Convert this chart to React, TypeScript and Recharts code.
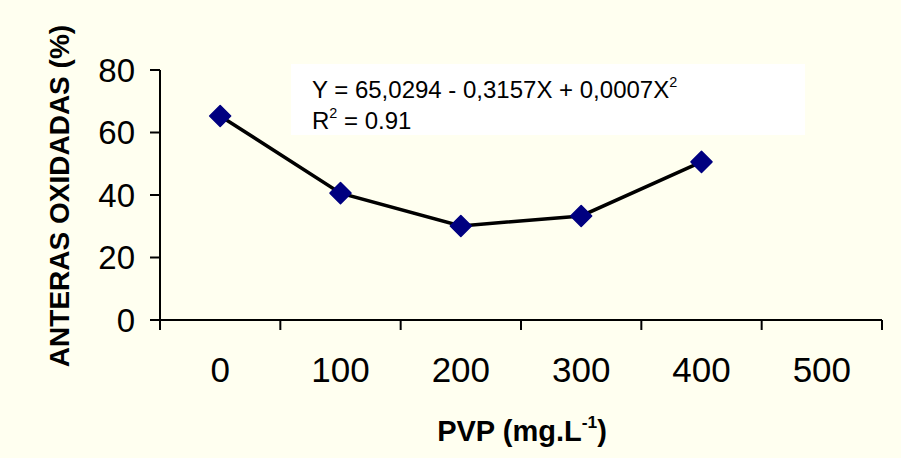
import { Line, LineChart, XAxis, YAxis } from "recharts";

// PVP dose (mg/L) vs. oxidised anthers (%)
const doses = [0, 100, 200, 300, 400];
const oxidised = [65.3, 40.6, 30.1, 33.3, 50.6];
const xTicks = [0, 100, 200, 300, 400, 500];
const yTicks = [0, 20, 40, 60, 80];

const data = doses.map((d, i) => ({ pvp: d, value: oxidised[i] }));

const FONT = "'Liberation Sans', Arial, sans-serif";
const BG = "#FFFFF0";
const NAVY = "#000080";
const PLOT_W = 722;

// category-style axis: label in the middle, tick marks on the band edges
function XTick(props: any) {
  const { x, y, payload, index } = props;
  const w = typeof props.width === "number" && props.width > 100 ? props.width : PLOT_W;
  const half = w / 12;
  const last = index === xTicks.length - 1;
  return (
    <g>
      <line x1={x - half} x2={x - half} y1={y - 10} y2={y} stroke="#000" strokeWidth={2} />
      {last && <line x1={x + half} x2={x + half} y1={y - 10} y2={y} stroke="#000" strokeWidth={2} />}
      <text x={x} y={y + 52} textAnchor="middle" fontFamily={FONT} fontSize={35} fill="#000">
        {payload.value}
      </text>
    </g>
  );
}

function Diamond(props: any) {
  const { cx, cy } = props;
  if (cx == null || cy == null) return null;
  const r = 10.5;
  return (
    <polygon
      points={`${cx},${cy - r} ${cx + r},${cy} ${cx},${cy + r} ${cx - r},${cy}`}
      fill={NAVY}
      stroke={NAVY}
      strokeWidth={1.5}
      strokeLinejoin="round"
    />
  );
}

const sup = { fontSize: "0.6em", position: "relative" as const, top: "-0.75em" };

export default function App() {
  return (
    <div style={{ position: "absolute", left: 0, top: 0, width: 901, height: 458, background: BG, fontFamily: FONT }}>
      <LineChart width={901} height={458} data={data} margin={{ top: 70, right: 19, bottom: 0, left: 80 }}>
        <XAxis
          type="number"
          dataKey="pvp"
          domain={[-50, 550]}
          ticks={xTicks}
          interval={0}
          height={138}
          tickLine={false}
          tickSize={10}
          tickMargin={0}
          axisLine={{ stroke: "#000", strokeWidth: 2 }}
          tick={<XTick />}
        />
        <YAxis
          type="number"
          domain={[0, 80]}
          ticks={yTicks}
          interval={0}
          width={80}
          tickSize={10}
          tickMargin={15}
          axisLine={{ stroke: "#000", strokeWidth: 2 }}
          tickLine={{ stroke: "#000", strokeWidth: 2 }}
          tick={{ fill: "#000", fontSize: 33, fontFamily: FONT }}
        />
        <Line
          type="linear"
          dataKey="value"
          stroke="#000"
          strokeWidth={3.5}
          dot={<Diamond />}
          activeDot={false}
          isAnimationActive={false}
        />
      </LineChart>

      {/* regression box */}
      <div
        style={{
          position: "absolute",
          left: 291,
          top: 64,
          width: 514,
          height: 71,
          background: "#FFFFFF",
          boxSizing: "border-box",
          paddingLeft: 21,
          paddingTop: 12,
          fontSize: 24,
          lineHeight: "28px",
          color: "#000",
          whiteSpace: "nowrap",
        }}
      >
        <div>
          Y = 65,0294 - 0,3157X + 0,0007X<span style={sup}>2</span>
        </div>
        <div>
          R<span style={sup}>2</span> = 0.91
        </div>
      </div>

      {/* y title */}
      <div
        style={{
          position: "absolute",
          left: 60 - 200,
          top: 196 - 14,
          width: 400,
          height: 28,
          lineHeight: "28px",
          textAlign: "center",
          fontSize: 28,
          fontWeight: "bold",
          color: "#000",
          transform: "rotate(-90deg)",
          whiteSpace: "nowrap",
        }}
      >
        ANTERAS OXIDADAS (%)
      </div>

      {/* x title */}
      <div
        style={{
          position: "absolute",
          left: 522 - 200,
          top: 431 - 14,
          width: 400,
          height: 28,
          lineHeight: "28px",
          textAlign: "center",
          fontSize: 29,
          fontWeight: "bold",
          color: "#000",
          whiteSpace: "nowrap",
        }}
      >
        PVP (mg.L<span style={sup}>-1</span>)
      </div>
    </div>
  );
}
